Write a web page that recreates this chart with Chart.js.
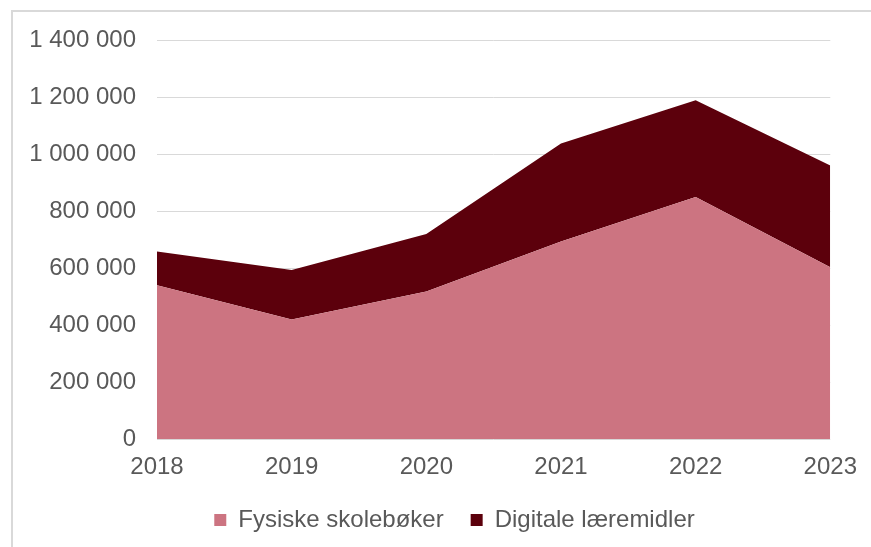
<!DOCTYPE html>
<html>
<head>
<meta charset="utf-8">
<script src="https://cdn.jsdelivr.net/npm/chart.js@4"></script>
<style>
  html, body { margin: 0; padding: 0; background: #fff; }
  #wrap { position: relative; width: 871px; height: 547px; }
  #frame {
    position: absolute; left: 11px; top: 10px; width: 900px; height: 600px;
    border-left: 2px solid #d9d9d9; border-top: 2px solid #d9d9d9;
  }
  canvas { position: absolute; left: 0; top: 0; }
</style>
</head>
<body>
<div id="wrap">
  <div id="frame"></div>
  <canvas id="graph" width="871" height="547"></canvas>
</div>
<script>
const years = ['2018', '2019', '2020', '2021', '2022', '2023'];
const fysiske = [540000, 420000, 518000, 693000, 849000, 603000];
const digitale = [118000, 173000, 202000, 344000, 340000, 357000];

const textColor = '#595959';
const fontFamily = '"Liberation Sans", Arial, sans-serif';

// nudge the legend to the right, like the original
const legendShift = {
    id: 'legendShift',
    afterLayout(chart) {
        chart.legend.left += 39;
        chart.legend.right += 39;
    }
};

const config = {
    type: 'line',
    data: {
        labels: years,
        datasets: [
            {
                label: 'Fysiske skolebøker',
                data: fysiske,
                fill: 'origin',
                borderWidth: 0,
                pointRadius: 0,
                borderColor: '#cc7481',
                backgroundColor: '#cc7481',
            },
            {
                label: 'Digitale læremidler',
                data: digitale,
                fill: '-1',
                borderWidth: 0,
                pointRadius: 0,
                borderColor: '#5c000c',
                backgroundColor: '#5c000c',
            }
        ]
    },
    options: {
        responsive: false,
        animation: false,
        layout: {
            padding: { left: 0, right: 40, top: 40, bottom: 5 }
        },
        scales: {
            x: {
                offset: false,
                grid: { display: false, drawTicks: false },
                border: { display: false },
                ticks: {
                    color: textColor,
                    font: { family: fontFamily, size: 24 },
                    padding: 14,
                    maxRotation: 0
                },
                afterFit: scale => { scale.height -= 15; }
            },
            y: {
                stacked: true,
                min: 0,
                max: 1400000,
                grid: { color: '#d9d9d9', lineWidth: 1, drawTicks: false },
                border: { display: false },
                ticks: {
                    stepSize: 200000,
                    color: textColor,
                    font: { family: fontFamily, size: 24 },
                    padding: 21,
                    callback: v => String(v).replace(/\B(?=(\d{3})+(?!\d))/g, ' ')
                },
                afterFit: scale => { scale.width = 157; }
            }
        },
        plugins: {
            tooltip: { enabled: false },
            legend: {
                position: 'bottom',
                labels: {
                    color: textColor,
                    font: { family: fontFamily, size: 24 },
                    boxWidth: 12,
                    boxHeight: 12,
                    padding: 27
                }
            }
        }
    },
    plugins: [legendShift]
};

const chart = new Chart(document.getElementById('graph'), config);
</script>
</body>
</html>
